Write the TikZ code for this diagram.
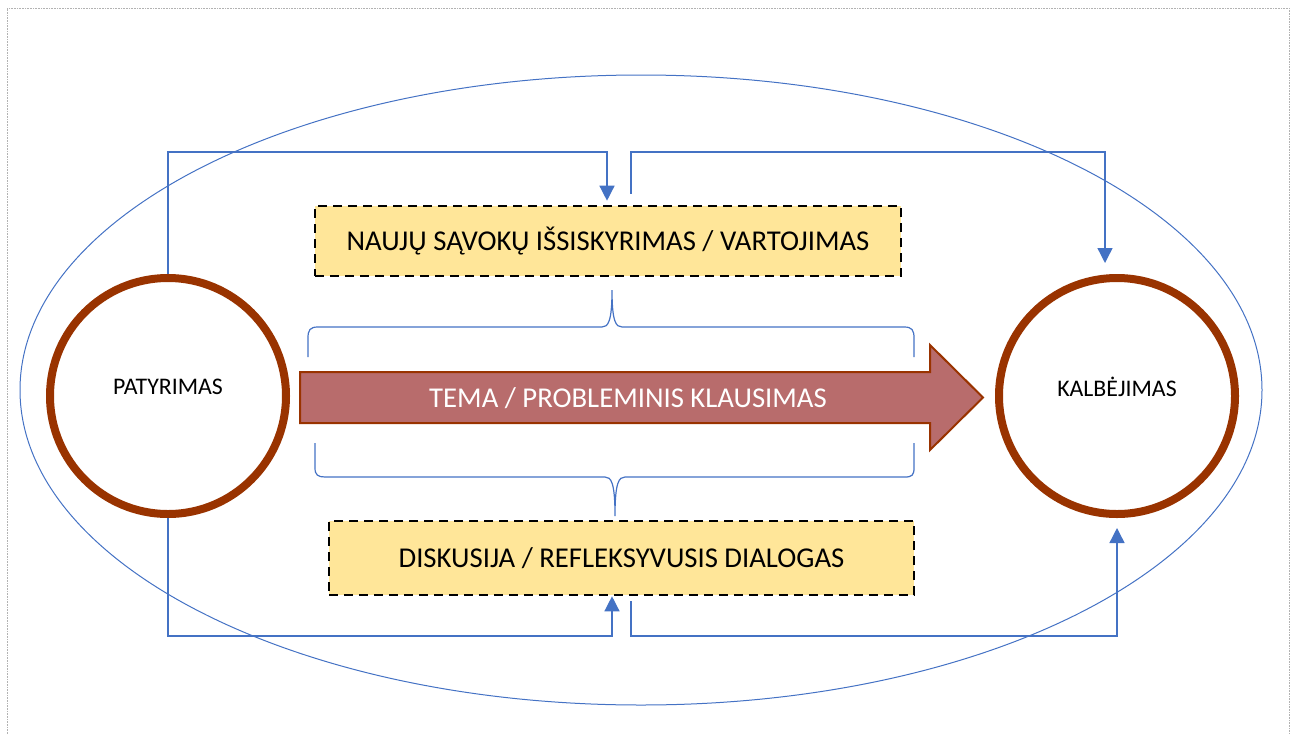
\documentclass[tikz,border=0pt]{standalone}
\usepackage{fontspec}
\setmainfont{Carlito}
\usepackage{xcolor}
\usetikzlibrary{arrows.meta}

\definecolor{ringbrown}{RGB}{153,51,0}
\definecolor{arrowred}{RGB}{184,108,108}
\definecolor{boxgold}{RGB}{255,230,153}
\definecolor{lineblue}{RGB}{68,114,196}

\tikzset{
  ring/.style={circle, draw=ringbrown, line width=8pt, minimum size=236pt, inner sep=0pt},
  stagebox/.style={draw=black, fill=boxgold, line width=2.6pt, dash pattern=on 9pt off 6pt,
    font=\fontsize{28.7}{34}\selectfont, inner sep=0pt},
  conn/.style={draw=lineblue, line width=1.4pt, -{Triangle[length=15pt,width=15pt]}},
  bracket/.style={draw=lineblue, line width=1.2pt},
}

\begin{document}
\begin{tikzpicture}[x=1pt, y={(0,-1pt)}]
  \useasboundingbox (0,0) rectangle (1296,734);
  \draw[gray!60, densely dotted, line width=0.6pt] (7,734) -- (7,8) -- (1289,8) -- (1289,734);

  % outer ellipse
  \draw[lineblue, line width=1pt] (641,390) ellipse [x radius=621, y radius=315];

  % circles
  \node[ring] (patyrimas) at (168,396) {};
  \node[font=\fontsize{23.8}{28}\selectfont] (patyrimastxt) at ([yshift=9pt]patyrimas.center) {PATYRIMAS};
  \node[ring] (kalbejimas) at (1117,396) {};
  \node[font=\fontsize{23.8}{28}\selectfont] (kalbejimastxt) at ([yshift=9pt]kalbejimas.center) {KALBĖJIMAS};

  % boxes
  \node[stagebox, minimum width=586pt, minimum height=70pt] (savokos) at (608,241) {NAUJŲ SĄVOKŲ IŠSISKYRIMAS / VARTOJIMAS};
  \node[stagebox, minimum width=585pt, minimum height=74pt] (diskusija) at (621.5,558) {DISKUSIJA / REFLEKSYVUSIS DIALOGAS};

  % big arrow
  \draw[ringbrown, fill=arrowred, line width=2pt, line join=miter]
    (300,372) -- (930,372) -- (930,345) -- (983,397.5) -- (930,450) -- (930,423) -- (300,423) -- cycle;
  \node[text=white, font=\fontsize{28.7}{34}\selectfont] (tema) at (628,398) {TEMA / PROBLEMINIS KLAUSIMAS};

  % braces
  \draw[bracket] (308,357) -- (308,338) .. controls (308,330) and (310,327) .. (318,327) -- (602,327)
    .. controls (608,327) and (612,322) .. (612,290) .. controls (612,322) and (616,327) .. (622,327)
    -- (904,327) .. controls (912,327) and (914,330) .. (914,338) -- (914,357);
  \draw[bracket] (315,443) -- (315,468) .. controls (315,475) and (318,477) .. (325,477) -- (605,477)
    .. controls (611,477) and (615,482) .. (615,516) .. controls (615,482) and (619,477) .. (625,477)
    -- (905,477) .. controls (912,477) and (914,475) .. (914,468) -- (914,443);

  % connectors
  \coordinate (topin) at (607,152);
  \coordinate (topout) at (631,152);
  \coordinate (topend) at (1105,152);
  \coordinate (botin) at (612,636);
  \coordinate (botout) at (631,636);
  \draw[conn, shorten >=4pt] (patyrimas.north) |- (topin) -- (topin |- savokos.north);
  \draw[conn, shorten <=11pt, shorten >=11pt] (savokos.north -| topout) -- (topout) -- (topend) -- (topend |- kalbejimas.north);
  \draw[conn, shorten >=0pt] (patyrimas.south) |- (botin) -- (botin |- diskusija.south);
  \draw[conn, shorten <=5pt, shorten >=10pt] (diskusija.south -| botout) -- (botout) -| (kalbejimas.south);
\end{tikzpicture}
\end{document}
